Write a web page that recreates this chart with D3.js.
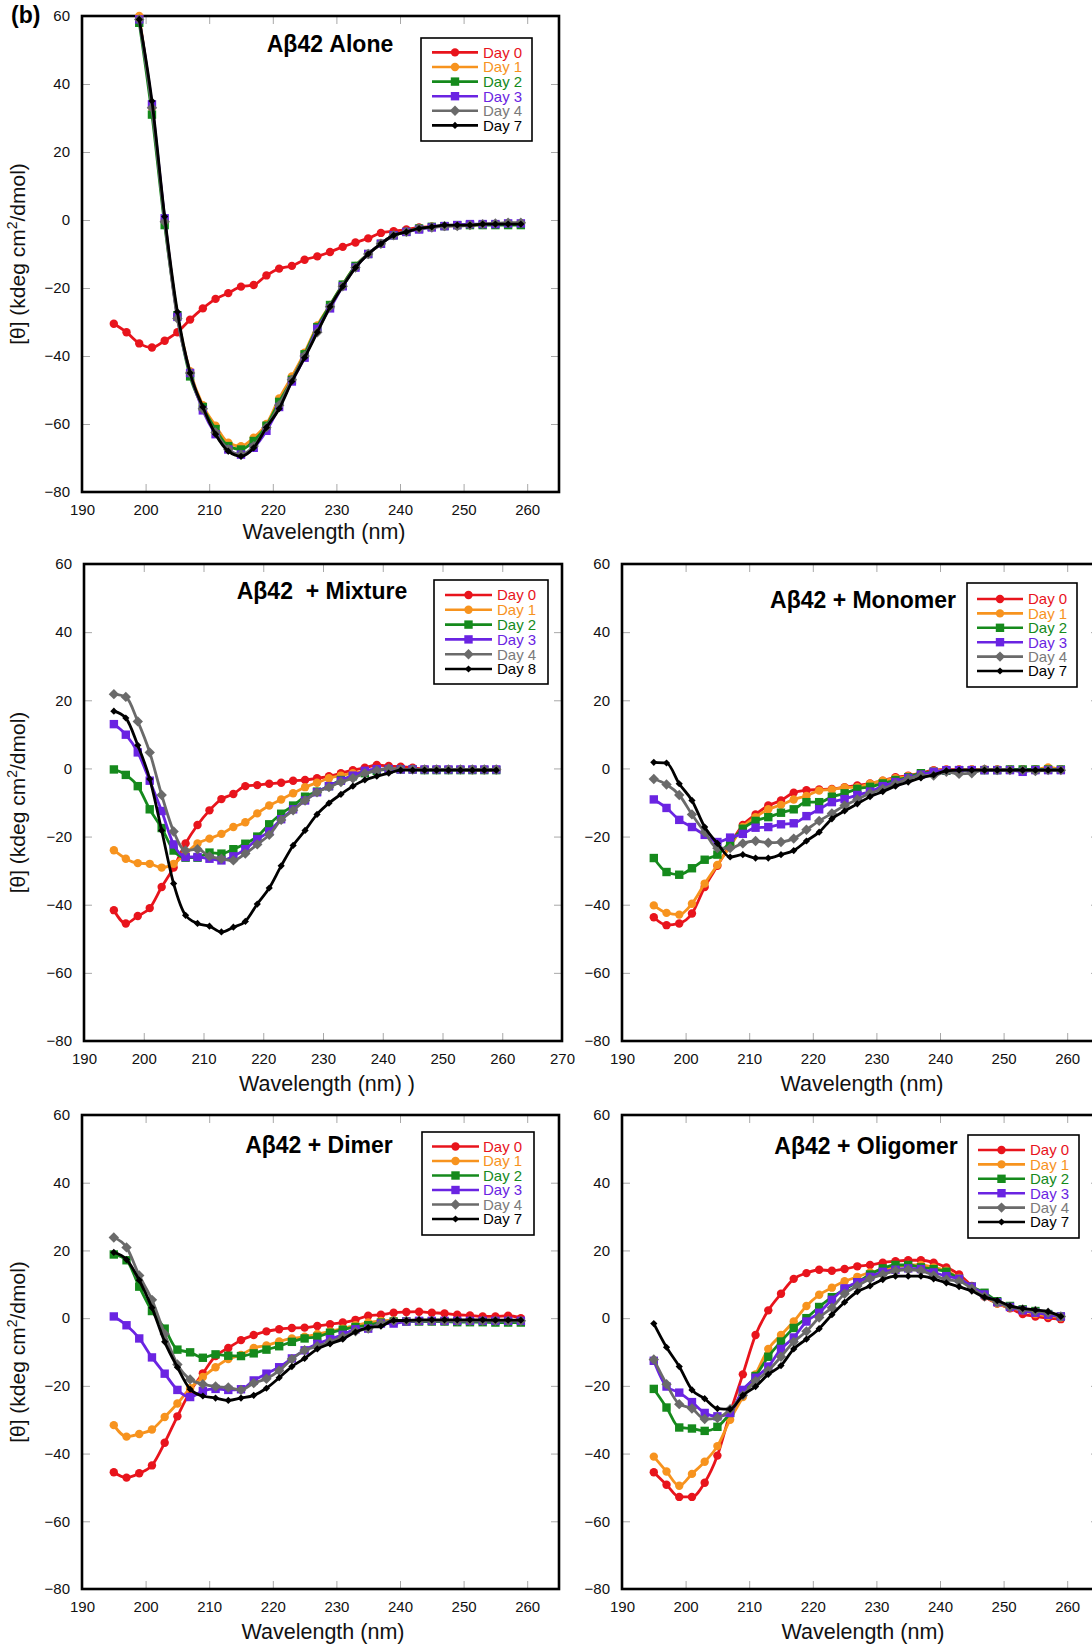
<!DOCTYPE html>
<html><head><meta charset="utf-8">
<script src="https://cdn.jsdelivr.net/npm/d3@7"></script>
<style>
body{margin:0;background:#fff}
svg{display:block;font-family:"Liberation Sans",Arial,Helvetica,sans-serif}
</style></head><body>
<svg id="chart" width="1092" height="1647"></svg>
<script>
// ---------- DATA ----------
const wavelengths = [195,197,199,201,203,205,207,209,211,213,215,217,219,221,223,225,227,229,231,233,235,237,239,241,243,245,247,249,251,253,255,257,259];
const xTicksShort = [190,200,210,220,230,240,250,260];
const xTicksLong = [190,200,210,220,230,240,250,260,270];
const yTicks = [-80,-60,-40,-20,0,20,40,60];
const dayLabelsA = ["Day 0","Day 1","Day 2","Day 3","Day 4","Day 7"];
const dayLabelsB = ["Day 0","Day 1","Day 2","Day 3","Day 4","Day 8"];
const panelTitles = ["A\u03b242 Alone","A\u03b242  + Mixture","A\u03b242 + Monomer","A\u03b242 + Dimer","A\u03b242 + Oligomer"];
const xAxisTitles = ["Wavelength (nm)","Wavelength (nm) )","Wavelength (nm)","Wavelength (nm)","Wavelength (nm)"];

// Aβ42 alone
const alone_d0 = [-30.5,-33,-36.3,-37.5,-35.5,-33,-29.3,-26,-23.2,-21.5,-19.6,-19.1,-16.3,-14.3,-13.5,-11.7,-10.7,-9.4,-7.9,-6.6,-5.4,-3.8,-3.3,-2.8,-2.2,-2,-1.8,-1.6,-1.5,-1.3,-1.2,-1.1,-1.0];
const alone_d1 = [null,null,60,33,0,-28,-44.5,-54.5,-60.5,-65.5,-66.5,-64,-60,-52.5,-46,-39,-31,-25,-19,-13.5,-10,-7,-4.5,-3.5,-2.5,-2,-1.8,-1.5,-1.5,-1.3,-1.3,-1.2,-1.2];
const alone_d2 = [null,null,58,31,-1.5,-28,-46,-55,-61.5,-66.5,-67.5,-65,-60.5,-53.5,-47,-39.5,-31.5,-25,-19,-13.5,-10,-7,-4.5,-3.5,-2.5,-2,-1.8,-1.5,-1.5,-1.5,-1.5,-1.5,-1.5];
const alone_d3 = [null,null,59,34,0.5,-28.5,-45,-56,-63,-67.5,-69,-67,-62,-55,-47.5,-40.5,-32,-26,-19.5,-14,-10,-7,-4.5,-3.5,-2.8,-2.2,-1.8,-1.5,-1.2,-1.2,-1.2,-1,-1];
const alone_d4 = [null,null,59,33,-0.5,-29,-45,-55.5,-62.5,-67.5,-69,-66.5,-61,-54.5,-47,-40,-33,-25.5,-19.5,-14,-10,-7,-4.5,-3.5,-2.5,-2.2,-1.8,-1.8,-1.5,-1.2,-1,-0.8,-0.8];
const alone_d7 = [null,null,59,35,1,-27,-45,-55,-63,-68,-69.5,-67,-61,-55.5,-47.5,-40.5,-33,-25.5,-19.5,-14,-10,-7,-4.5,-3.5,-2.5,-2,-1.5,-1.5,-1.5,-1.2,-1.2,-1.2,-1.2];

// Aβ42 + Mixture
const mix_d0 = [-41.6,-45.5,-43.3,-41,-34.8,-29.1,-22,-16.6,-12.3,-9,-7.5,-5.2,-4.9,-4.5,-4.2,-3.6,-3.4,-2.9,-2.3,-1.4,-0.5,0.2,1,0.7,0.5,0.2,-0.2,-0.3,-0.3,-0.4,-0.5,-0.5,-0.5];
const mix_d1 = [-24,-26.5,-27.8,-28,-29.1,-28,-25,-22,-20.6,-19.2,-17.2,-15.8,-13.2,-10.9,-9.1,-7.3,-5.5,-4.2,-2.9,-2.1,-1.4,-0.8,-0.5,-0.3,-0.3,-0.3,-0.3,-0.3,-0.3,-0.3,-0.3,-0.3,-0.3];
const mix_d2 = [-0.3,-1.9,-5.2,-12,-17.5,-24.1,-26.2,-26.2,-24.7,-25,-23.7,-22.1,-20,-16.4,-13.3,-10.9,-8.3,-6.8,-5.2,-3.4,-2.3,-1.4,-0.7,-0.3,-0.3,-0.3,-0.5,-0.5,-0.5,-0.5,-0.5,-0.5,-0.5];
const mix_d3 = [13,9.9,4.7,-3.6,-12.5,-22.3,-26,-26,-26.5,-27,-25.8,-23.7,-20.8,-18.5,-14.9,-12,-9.4,-7,-5.2,-3.6,-2.1,-0.7,-0.2,-0.2,-0.3,-0.3,-0.3,-0.3,-0.3,-0.3,-0.3,-0.3,-0.3];
const mix_d4 = [21.8,21,13.8,4.7,-7.8,-18.5,-24.1,-23.7,-25.8,-26.5,-27,-25,-22.3,-19.5,-15.1,-12.3,-9.4,-7,-5.5,-4,-2.9,-1.4,-0.6,0,-0.2,-0.3,-0.3,-0.3,-0.3,-0.3,-0.3,-0.3,-0.3];
const mix_d8 = [16.8,14.8,6.8,-3.1,-18.2,-33.8,-43.1,-45.5,-46.3,-48,-46.6,-44.9,-39.8,-35.1,-28.6,-22.6,-18.2,-13.5,-10.2,-7.6,-5.2,-3.4,-2.3,-1.4,-0.5,-0.5,-0.5,-0.5,-0.5,-0.5,-0.5,-0.5,-0.5];

// Aβ42 + Monomer
const mon_d0 = [-43.7,-46,-45.5,-42.6,-34.8,-28.6,-22.3,-16.6,-13.5,-10.9,-9.4,-7.1,-6.4,-6.2,-6,-5.5,-5,-4.4,-3.6,-2.6,-2.1,-1.4,-0.5,-0.3,-0.3,-0.3,-0.3,-0.3,-0.3,-0.3,-0.3,-0.3,-0.3];
const mon_d1 = [-40.2,-42.4,-42.9,-39.7,-33.8,-28.3,-22.9,-17.2,-14.3,-12,-10.7,-9.1,-8.1,-6.5,-6.2,-5.6,-5.5,-4.5,-3.6,-2.9,-2.3,-1.6,-0.7,-0.4,-0.4,-0.3,-0.3,-0.3,-0.3,-0.3,-0.3,0.3,-0.3];
const mon_d2 = [-26.3,-30.4,-31.2,-29.3,-26.8,-25.3,-21.6,-17.7,-15.4,-14.3,-13,-12,-9.9,-9.9,-8.3,-7.3,-6,-5.4,-4.4,-3.4,-2.6,-1.4,-1,-0.7,-0.5,-0.5,-0.5,-0.5,-0.3,-0.3,-0.3,-0.3,-0.3];
const mon_d3 = [-9.1,-11.6,-15.1,-17.2,-19.5,-21.6,-20.3,-19.2,-17.4,-17.2,-16.4,-16.1,-14,-12,-9.9,-9,-7.8,-6.8,-5.2,-4,-2.8,-1.8,-1,-0.5,-0.5,-0.5,-0.5,-0.5,-0.5,-1,-0.5,-0.5,-0.5];
const mon_d4 = [-3.1,-4.7,-7.8,-13.5,-18.7,-23.4,-23.4,-22,-21.3,-21.8,-21.6,-20.6,-18,-15.4,-13.2,-10.9,-9.1,-7.3,-6,-4.5,-3.1,-2.1,-2.1,-1,-1.6,-1.4,-0.3,-0.5,-0.5,-0.5,-0.8,-0.5,-0.5];
const mon_d7 = [1.8,1.6,-4.5,-9.4,-17.2,-22,-26,-25.3,-26.3,-26.3,-25.3,-24.1,-21.3,-18.7,-14.8,-12.5,-10.4,-8.3,-6.8,-5.2,-4,-2.8,-1.9,-0.7,-0.5,-0.5,-0.5,-0.5,-0.5,-0.5,-0.5,-0.5,-0.5];

// Aβ42 + Dimer
const dim_d0 = [-45.5,-47.1,-45.8,-43.5,-36.8,-29,-21.7,-16.3,-11.2,-8.8,-6.5,-5,-3.9,-3.3,-2.9,-2.8,-2.3,-1.8,-1.3,-0.5,0.7,1,1.6,1.8,1.9,1.6,1.4,1,0.8,0.5,0.5,0.7,0];
const dim_d1 = [-31.6,-35,-34.2,-32.9,-29.2,-25.2,-20.7,-17.4,-14.5,-12.1,-10.9,-8.8,-8.1,-6.9,-6,-5.5,-4.7,-3.9,-3.1,-2.1,-1.3,-0.8,-0.6,-0.8,-0.8,-0.8,-0.8,-0.8,-0.8,-1,-1,-1,-1];
const dim_d2 = [18.8,17.1,9.3,2.1,-3.1,-9.3,-10.1,-11.7,-10.7,-11.1,-11.2,-10.4,-9.3,-8.3,-7,-6,-5.5,-4.3,-3.4,-2.6,-2.1,-1.3,-1,-1,-1,-1,-1,-1.2,-1.2,-1.2,-1.3,-1.3,-1.3];
const dim_d3 = [0.5,-2.1,-6,-11.6,-16.4,-21.2,-23.3,-21.5,-20.9,-21.2,-21,-18.4,-16.4,-14.5,-11.9,-9.5,-7.6,-6.2,-4.9,-3.3,-3.1,-1.6,-1.6,-1,-0.8,-0.8,-0.8,-0.8,-0.8,-0.8,-0.8,-0.8,-0.8];
const dim_d4 = [23.8,20.9,12.6,5.4,-4.7,-13.7,-18.1,-19.5,-20.2,-20.5,-21.2,-19.2,-17.9,-15.5,-12.1,-9.5,-8.3,-7,-5.5,-3.9,-3.1,-1.6,-0.8,-0.8,-0.8,-0.8,-0.8,-0.8,-0.8,-0.8,-0.8,-0.8,-0.8];
const dim_d7 = [19.4,17.3,11.2,3.1,-7,-14.5,-21,-23,-23.6,-24.3,-23.6,-22.8,-20.7,-17.6,-14.3,-11.9,-9.1,-7.6,-6.2,-4.1,-2.8,-2.4,-0.7,-0.7,-0.5,-0.5,-0.5,-0.5,-0.5,-0.5,-0.6,-0.6,-0.6];

// Aβ42 + Oligomer
const oli_d0 = [-45.5,-49.2,-52.8,-52.8,-48.6,-40.6,-28,-16.6,-5,2.3,7.2,11.6,13.3,14.3,14,14.5,15.3,15.7,16.4,16.8,17.1,17.1,16.4,15,12.9,9.5,6.4,4.3,2.9,1.2,0.5,0,-0.3];
const oli_d1 = [-40.9,-45.3,-49.5,-46,-42.4,-37.8,-30,-23.3,-16.6,-9.1,-5,-1,3.6,6.9,9,10.9,12.2,13.5,14.3,15,15.7,15.7,15,14,11.9,9.3,6.7,4.3,3.1,2.3,1.2,0.7,0.2];
const oli_d2 = [-20.9,-26.4,-32.3,-32.6,-33.3,-32.1,-28,-21.7,-17.1,-11.4,-6.9,-2.9,0,3.3,6.2,8.5,10.6,12.9,14.7,15.7,15.7,15,14.5,13.7,11.6,9.3,7.5,5,3.6,2.6,2.1,1.2,0.5];
const oli_d3 = [-12.6,-20.2,-22,-24.8,-28,-29,-28,-21.2,-17.6,-14.3,-9.1,-5.7,-1,1.6,5.4,8.8,10.6,12.2,13.7,14.3,14.7,14.5,13.5,12.4,11.6,9.3,7,4.7,3.3,2.3,1.6,1,0.5];
const oli_d4 = [-12.2,-19.5,-25.4,-26.7,-29.8,-29.5,-26.9,-22.8,-18.6,-15.5,-11.4,-7,-3.9,0.2,3.1,7.2,9.5,11.6,12.9,14,14.3,14,12.6,11.4,10.9,8.8,6.4,4.7,3.3,2.6,2.1,1.6,0.5];
const oli_d7 = [-1.6,-8.6,-14.3,-21.2,-23.8,-26.7,-26.9,-22.8,-20.2,-16.6,-14,-9.1,-6.2,-3.1,1,4.7,7.8,9.5,11.4,12.4,12.4,12.4,11.6,10.4,9.3,8,6.2,5.2,3.6,2.9,2.4,1.9,0.5];

const panelSeries = [
  [alone_d0, alone_d1, alone_d2, alone_d3, alone_d4, alone_d7],
  [mix_d0, mix_d1, mix_d2, mix_d3, mix_d4, mix_d8],
  [mon_d0, mon_d1, mon_d2, mon_d3, mon_d4, mon_d7],
  [dim_d0, dim_d1, dim_d2, dim_d3, dim_d4, dim_d7],
  [oli_d0, oli_d1, oli_d2, oli_d3, oli_d4, oli_d7]
];
const panelLegends = [dayLabelsA, dayLabelsB, dayLabelsA, dayLabelsA, dayLabelsA];
const panelXDomainMax = [265, 270, 265, 265, 265];
const panelXTicks = [xTicksShort, xTicksLong, xTicksShort, xTicksShort, xTicksShort];

// ---------- LAYOUT & STYLE ----------
const layout = [
  {left:82, top:16, right:559, bottom:492, title:[330,52], xt:[324,539], yt:true,
   lg:{x0:421,y0:38,x1:532,y1:141,r0:52.4,step:14.6,l0:432,l1:478,tx:483}},
  {left:84, top:564, right:562, bottom:1041, title:[322,599], xt:[327,1091], yt:true,
   lg:{x0:434,y0:580,x1:548,y1:684,r0:595,step:14.8,l0:445,l1:492,tx:497}},
  {left:622, top:564, right:1099, bottom:1041, title:[863,608], xt:[862,1091], yt:false,
   lg:{x0:967,y0:583,x1:1077,y1:687,r0:599,step:14.4,l0:977,l1:1023,tx:1028}},
  {left:82, top:1115, right:559, bottom:1589, title:[319,1153], xt:[323,1639], yt:true,
   lg:{x0:422,y0:1132,x1:534,y1:1235,r0:1146.5,step:14.5,l0:432,l1:479,tx:483}},
  {left:622, top:1115, right:1099, bottom:1589, title:[866,1154], xt:[863,1639], yt:false,
   lg:{x0:968,y0:1135,x1:1079,y1:1238,r0:1150,step:14.4,l0:978,l1:1025,tx:1030}}
];
const styles = [
  {color:"#e8141c", text:"#e8141c", marker:"circle", size:4.2},
  {color:"#f7931e", text:"#f7931e", marker:"circle", size:4.2},
  {color:"#158a1c", text:"#158a1c", marker:"square", size:4.2},
  {color:"#6a24e2", text:"#6a24e2", marker:"square", size:4.2},
  {color:"#6a6a6a", text:"#7a7a7a", marker:"diamond", size:5.2},
  {color:"#000000", text:"#000000", marker:"diamond", size:3.6}
];
function markerPath(type, s){
  if(type==="circle") return d3.symbol(d3.symbolCircle, Math.PI*s*s)();
  if(type==="square") return `M${-s},${-s}H${s}V${s}H${-s}Z`;
  return `M0,${-s}L${s},0L0,${s}L${-s},0Z`;
}

const svg = d3.select("#chart");
svg.append("rect").attr("width",1092).attr("height",1647).attr("fill","#fff");
const FONT = '"Liberation Sans",Arial,Helvetica,sans-serif';

svg.append("text").attr("x",11).attr("y",23).attr("font-size",23).attr("font-weight","bold")
  .attr("font-family",FONT).text("(b)");

layout.forEach((L, pi) => {
  const x = d3.scaleLinear().domain([190, panelXDomainMax[pi]]).range([L.left, L.right]);
  const y = d3.scaleLinear().domain([-80, 60]).range([L.bottom, L.top]);
  const g = svg.append("g");

  const ax = [
    [d3.axisBottom(x).tickValues(panelXTicks[pi]).tickSizeInner(-8).tickSizeOuter(0).tickPadding(12).tickFormat(d3.format("d")), `translate(0,${L.bottom})`],
    [d3.axisTop(x).tickValues(panelXTicks[pi]).tickSizeInner(-8).tickSizeOuter(0).tickFormat(""), `translate(0,${L.top})`],
    [d3.axisLeft(y).tickValues(yTicks).tickSizeInner(-8).tickSizeOuter(0).tickPadding(12), `translate(${L.left},0)`],
    [d3.axisRight(y).tickValues(yTicks).tickSizeInner(-8).tickSizeOuter(0).tickFormat(""), `translate(${L.right},0)`]
  ];
  ax.forEach(([a, tr]) => {
    const ag = g.append("g").attr("transform", tr).call(a);
    ag.select(".domain").remove();
    ag.selectAll(".tick line").attr("stroke","#a8a8a8").attr("stroke-width",1);
    ag.selectAll(".tick text").attr("font-size",15).attr("font-family",FONT).attr("fill","#111");
  });

  g.append("rect").attr("x",L.left).attr("y",L.top)
    .attr("width",L.right-L.left).attr("height",L.bottom-L.top)
    .attr("fill","none").attr("stroke","#000").attr("stroke-width",2.6);

  const line = d3.line().defined(d => d[1] != null)
    .x(d => x(d[0])).y(d => y(d[1])).curve(d3.curveMonotoneX);
  panelSeries[pi].forEach((vals, si) => {
    const st = styles[si];
    const pts = wavelengths.map((w,i) => [w, vals[i]]);
    g.append("path").datum(pts).attr("d", line).attr("fill","none")
      .attr("stroke", st.color).attr("stroke-width", 2.8).attr("stroke-linejoin","round");
    g.selectAll(null).data(pts.filter(d => d[1] != null)).enter().append("path")
      .attr("d", markerPath(st.marker, st.size))
      .attr("transform", d => `translate(${x(d[0])},${y(d[1])})`)
      .attr("fill", st.color);
  });

  g.append("text").attr("x",L.title[0]).attr("y",L.title[1]).attr("text-anchor","middle")
    .attr("font-size",23).attr("font-weight","bold").attr("font-family",FONT)
    .style("white-space","pre").text(panelTitles[pi]);

  const lg = L.lg;
  g.append("rect").attr("x",lg.x0).attr("y",lg.y0).attr("width",lg.x1-lg.x0).attr("height",lg.y1-lg.y0)
    .attr("fill","#fff").attr("stroke","#000").attr("stroke-width",1.6);
  panelLegends[pi].forEach((lab, si) => {
    const st = styles[si];
    const ry = lg.r0 + si*lg.step;
    g.append("line").attr("x1",lg.l0).attr("x2",lg.l1).attr("y1",ry).attr("y2",ry)
      .attr("stroke",st.color).attr("stroke-width",2.6);
    g.append("path").attr("d", markerPath(st.marker, st.size))
      .attr("transform",`translate(${(lg.l0+lg.l1)/2},${ry})`).attr("fill",st.color);
    g.append("text").attr("x",lg.tx).attr("y",ry).attr("dy","0.36em")
      .attr("font-size",15).attr("font-family",FONT).attr("fill",st.text).text(lab);
  });

  g.append("text").attr("x",L.xt[0]).attr("y",L.xt[1]).attr("text-anchor","middle")
    .attr("font-size",21.5).attr("font-family",FONT).attr("fill","#111").text(xAxisTitles[pi]);

  if (L.yt) {
    const cy = (L.top + L.bottom)/2;
    const t = g.append("text").attr("transform",`translate(25,${cy}) rotate(-90)`)
      .attr("text-anchor","middle").attr("font-size",21).attr("font-family",FONT).attr("fill","#111");
    t.append("tspan").text("[\u03b8] (kdeg cm");
    t.append("tspan").attr("font-size",14).attr("dy",-8).text("2");
    t.append("tspan").attr("dy",8).text("/dmol)");
  }
});
</script>
</body></html>
